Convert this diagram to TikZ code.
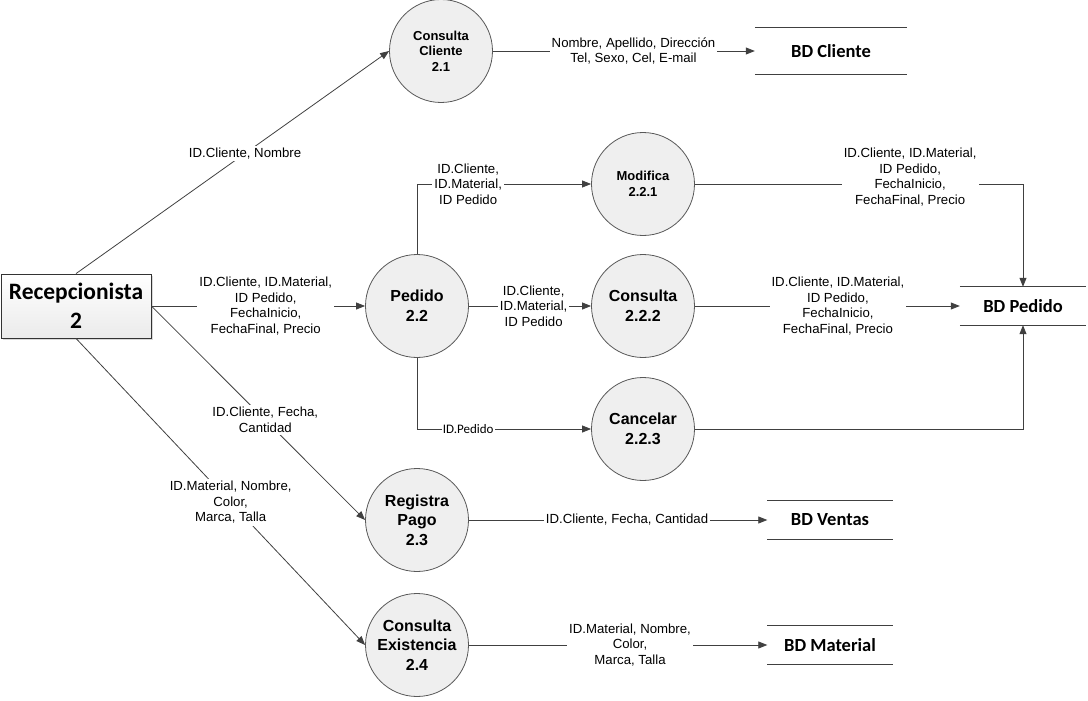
\documentclass[tikz,border=0pt]{standalone}
\usepackage{fontspec}
\setmainfont{Liberation Sans}
\newfontfamily\carlito{Carlito}
\usetikzlibrary{arrows.meta,shadows}

\definecolor{trazo}{HTML}{404040}
\definecolor{burbuja}{HTML}{EFEFEF}

\begin{document}
\begin{tikzpicture}[
    x=1pt,y=-1pt,
    flujo/.style={draw=trazo,line width=0.8pt,-{Triangle[length=9pt,width=7pt]}},
    linea/.style={draw=trazo,line width=0.8pt},
    proceso/.style={circle,draw=black!65,line width=0.8pt,fill=burbuja,
        minimum size=103pt,inner sep=0pt,align=center,
        font=\bfseries\fontsize{13}{15.5}\selectfont},
    procesog/.style={proceso,font=\bfseries\fontsize{16}{19.7}\selectfont},
    entidad/.style={rectangle,draw=black!80,line width=0.8pt,
        top color=white,bottom color=black!8,
        minimum width=150pt,minimum height=64pt,align=center,
        drop shadow={opacity=0.3,shadow xshift=2pt,shadow yshift=-2pt},
        font=\carlito\bfseries\fontsize{23.5}{29}\selectfont},
    almacen/.style={inner sep=0pt,font=\carlito\bfseries\fontsize{18.5}{22}\selectfont},
    dato/.style={fill=white,inner sep=2pt,align=center,
        font=\fontsize{13.2}{15.6}\selectfont},
    datoc/.style={fill=white,inner sep=1pt,font=\carlito\fontsize{13}{15}\selectfont}]

  \useasboundingbox (0,0) rectangle (1088,701);

  % ---- entidad externa -------------------------------------------------
  \node[entidad] (recep) at (76,306) {Recepcionista\\2};

  % ---- procesos --------------------------------------------------------
  \node[proceso]  (p21)  at (441,51)  {Consulta\\Cliente\\2.1};
  \node[proceso]  (p221) at (643,184) {Modifica\\2.2.1};
  \node[procesog] (p22)  at (417,306) {Pedido\\2.2};
  \node[procesog] (p222) at (643,306) {Consulta\\2.2.2};
  \node[procesog] (p223) at (643,429) {Cancelar\\2.2.3};
  \node[procesog] (p23)  at (417,520) {Registra\\Pago\\2.3};
  \node[procesog] (p24)  at (417,645) {Consulta\\Existencia\\2.4};

  % ---- almacenes de datos ----------------------------------------------
  \node[almacen,minimum width=152pt,minimum height=46pt] (bdc) at (831,51)   {BD Cliente};
  \node[almacen,minimum width=126pt,minimum height=38pt] (bdp) at (1023,306) {BD Pedido};
  \node[almacen,minimum width=125pt,minimum height=39pt] (bdv) at (830,520)  {BD Ventas};
  \node[almacen,minimum width=125pt,minimum height=38pt] (bdm) at (830,645)  {BD Material};

  % solo las dos rayas horizontales de cada almacen
  \foreach \bd in {bdc,bdp,bdv,bdm}
    \draw[linea] (\bd.north west) -- (\bd.north east)
                 (\bd.south west) -- (\bd.south east);

  % ---- flujos desde la recepcionista -----------------------------------
  \draw[flujo] (recep.north) -- node[dato,pos=0.54] {ID.Cliente, Nombre} (p21.west);
  \draw[flujo] (recep.east) -- node[dato,pos=0.535]
    {ID.Cliente, ID.Material,\\ID Pedido,\\FechaInicio,\\FechaFinal, Precio} (p22.west);
  \draw[flujo] (recep.east) -- node[dato,pos=0.533] {ID.Cliente, Fecha,\\Cantidad} (p23.west);
  \draw[flujo] (recep.south) -- node[dato,pos=0.535]
    {ID.Material, Nombre,\\Color,\\Marca, Talla} (p24.west);

  % ---- flujos del pedido -----------------------------------------------
  \draw[flujo] (p22.north) |- node[dato,pos=0.647] {ID.Cliente,\\ID.Material,\\ID Pedido} (p221.west);
  \draw[flujo] (p22.east) -- node[dato,pos=0.53] {ID.Cliente,\\ID.Material,\\ID Pedido} (p222.west);
  \draw[flujo] (p22.south) |- node[datoc,pos=0.647] {ID.Pedido} (p223.west);

  % ---- flujos hacia los almacenes --------------------------------------
  \draw[flujo] (p21.east) -- node[dato,pos=0.537]
    {Nombre, Apellido, Dirección\\Tel, Sexo, Cel, E-mail} (bdc.west);
  \draw[flujo] (p221.east) -| node[dato,pos=0.328,yshift=7pt]
    {ID.Cliente, ID.Material,\\ID Pedido,\\FechaInicio,\\FechaFinal, Precio} (bdp.north);
  \draw[flujo] (p222.east) -- node[dato,pos=0.54]
    {ID.Cliente, ID.Material,\\ID Pedido,\\FechaInicio,\\FechaFinal, Precio} (bdp.west);
  \draw[flujo] (p223.east) -| (bdp.south);
  \draw[flujo] (p23.east) -- node[dato,pos=0.53] {ID.Cliente, Fecha, Cantidad} (bdv.west);
  \draw[flujo] (p24.east) -- node[dato,pos=0.54]
    {ID.Material, Nombre,\\Color,\\Marca, Talla} (bdm.west);

\end{tikzpicture}
\end{document}
